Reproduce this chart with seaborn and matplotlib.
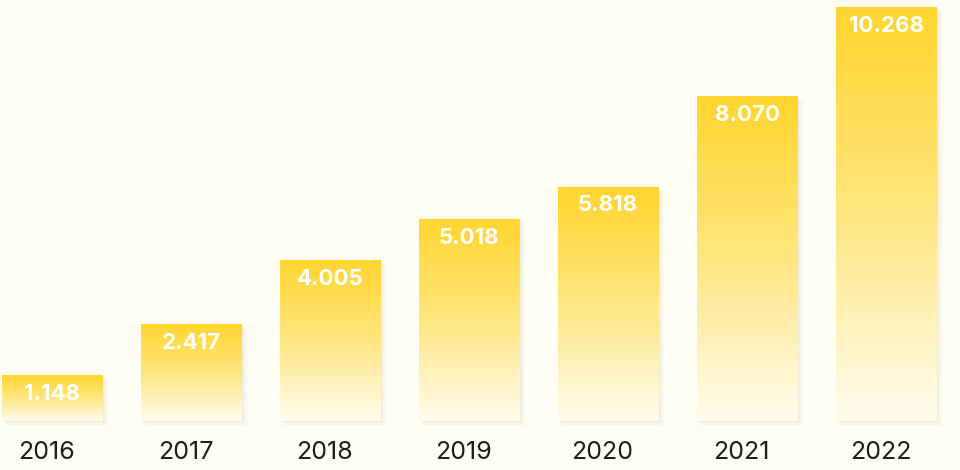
import numpy as np
import pandas as pd
import matplotlib
matplotlib.use("Agg")
import matplotlib.pyplot as plt
import seaborn as sns
from matplotlib.colors import LinearSegmentedColormap
from matplotlib.patches import Rectangle

# data
years = ["2016", "2017", "2018", "2019", "2020", "2021", "2022"]
values = [1.148, 2.417, 4.005, 5.018, 5.818, 8.070, 10.268]
labels = ["1.148", "2.417", "4.005", "5.018", "5.818", "8.070", "10.268"]

df = pd.DataFrame({"year": years, "value": values})

sns.set_theme(style="white")
plt.rcParams["font.family"] = ["Inter", "DejaVu Sans"]

bg = "#fffef4"
fig = plt.figure(figsize=(9.6, 4.7), dpi=100, facecolor=bg)
ax = fig.add_axes([0, 0, 1, 1])
ax.set_facecolor(bg)

sns.barplot(data=df, x="year", y="value", ax=ax, width=0.72,
            color="#ffd633", edgecolor="none", zorder=3)

grad = LinearSegmentedColormap.from_list("g", ["#fffcee", "#ffe680", "#ffd52e"])
g = np.linspace(0, 1, 256).reshape(-1, 1)

for p, lab in zip(ax.patches, labels):
    x0, y0 = p.get_x(), p.get_y()
    w, h = p.get_width(), p.get_height()
    # soft shadow
    for i, a in enumerate([0.05, 0.04, 0.03, 0.02]):
        dx = 0.012 * (i + 1)
        dy = 0.03 * (i + 1)
        ax.add_patch(Rectangle((x0 + dx * 0.6, y0 - dy), w + dx * 0.4, h,
                               facecolor="#8a7a50", alpha=a, edgecolor="none", zorder=2))
    p.set_facecolor("none")
    im = ax.imshow(g, cmap=grad, aspect="auto", origin="lower",
                   extent=[x0, x0 + w, y0, y0 + h], zorder=3.5)
    im.set_clip_path(p)
    ax.text(x0 + w / 2, y0 + h - 0.47, lab, ha="center", va="center",
            color="white", fontsize=16, fontweight="bold", zorder=5)

for i, yr in enumerate(years):
    ax.text(i - 0.04, -0.78, yr, ha="center", va="center", color="#1e1e1e", fontsize=18)

ax.set_xlim(-0.374, 6.532)
ax.set_ylim(-1.216, 10.447)
ax.axis("off")

fig.savefig("out.png", dpi=100, facecolor=bg)
